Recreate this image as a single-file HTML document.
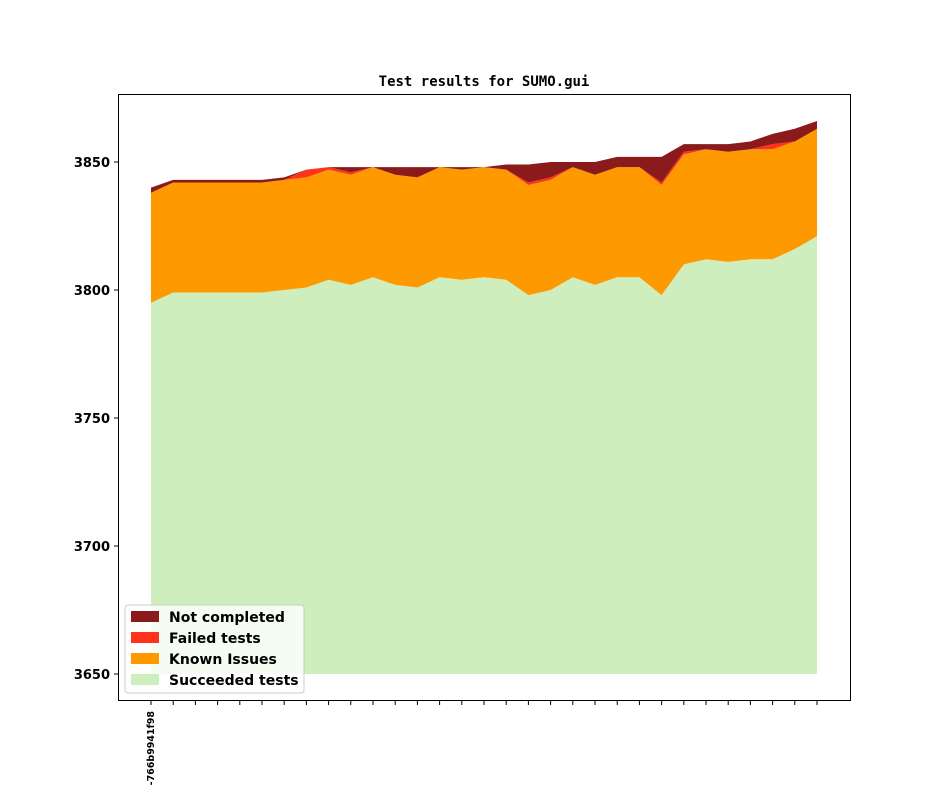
<!DOCTYPE html>
<html><head><meta charset="utf-8"><style>
body{margin:0;background:#fff;}
text{font-family:"DejaVu Sans","Liberation Sans",sans-serif;}
</style></head><body>
<svg id="chart" width="944" height="787">
<rect x="0" y="0" width="944" height="787" fill="#fff"/>
<text x="484" y="86" text-anchor="middle" font-weight="bold" font-size="14" style="font-family:'DejaVu Sans Mono','Liberation Mono',monospace">Test results for SUMO.gui</text>
<g id="areas"></g>
<rect x="118.5" y="94.5" width="732" height="606" fill="none" stroke="#000" stroke-width="1"/>
<g id="yaxis"></g>
<g id="xaxis"></g>
<g>
<rect x="125" y="605" width="179" height="88" rx="3" fill="#fff" fill-opacity="0.8" stroke="#ccc"/>
<g><rect x="131" y="611" width="28" height="11" fill="#8b1a1a"/><text x="169" y="622" font-size="14" font-weight="bold">Not completed</text></g>
<g><rect x="131" y="632" width="28" height="11" fill="#ff3319"/><text x="169" y="643" font-size="14" font-weight="bold">Failed tests</text></g>
<g><rect x="131" y="653" width="28" height="11" fill="#ff9900"/><text x="169" y="664" font-size="14" font-weight="bold">Known Issues</text></g>
<g><rect x="131" y="674" width="28" height="11" fill="#ceeebd"/><text x="169" y="685" font-size="14" font-weight="bold">Succeeded tests</text></g>
</g>
</svg>
<script>
const succeeded=[3795,3799,3799,3799,3799,3799,3800,3801,3804,3802,3805,3802,3801,3805,3804,3805,3804,3798,3800,3805,3802,3805,3805,3798,3810,3812,3811,3812,3812,3816,3821];
const known=[43,43,43,43,43,43,43,43,43,43,43,43,43,43,43,43,43,43,43,43,43,43,43,43,43,43,43,43,43,42,42];
const failed=[0,0,0,0,0,0,0,3,1,1,0,0,0,0,0,0,0,1,1,0,0,0,0,1,1,0,0,0,2,0,0];
const notCompleted=[2,1,1,1,1,1,1,0,0,2,0,3,4,0,1,0,2,7,6,2,5,4,4,10,3,2,3,3,4,5,3];
const yTicks=[3650,3700,3750,3800,3850];
const xLabels=["-766b9941f98"];
const base=3650;
const NS="http://www.w3.org/2000/svg";
const n=succeeded.length;
function xs(i){return 151+i*(817-151)/(n-1);}
function ys(v){return 162+(3850-v)*2.56;}
const areas=document.getElementById('areas');
const series=[[succeeded,'#ceeebd','area-succeeded'],[known,'#ff9900','area-known-issues'],[failed,'#ff3319','area-failed'],[notCompleted,'#8b1a1a','area-not-completed']];
let lower=succeeded.map(()=>base);
series.forEach(([vals,col,name],si)=>{
  const upper=vals.map((v,i)=>si===0?v:lower[i]+v);
  let d='';
  for(let i=0;i<n;i++)d+=(i?'L':'M')+xs(i)+','+ys(upper[i]);
  for(let i=n-1;i>=0;i--)d+='L'+xs(i)+','+ys(lower[i]);
  const p=document.createElementNS(NS,'path');
  p.setAttribute('d',d+'Z');p.setAttribute('fill',col);
  
  
  areas.appendChild(p);
  lower=upper;
});
const ya=document.getElementById('yaxis');
yTicks.forEach(t=>{
  const y=ys(t);
  const l=document.createElementNS(NS,'line');
  l.setAttribute('x1',114);l.setAttribute('x2',118);l.setAttribute('y1',y);l.setAttribute('y2',y);l.setAttribute('stroke','#000');
  
  
  ya.appendChild(l);
  const tx=document.createElementNS(NS,'text');
  tx.setAttribute('x',110);tx.setAttribute('y',y+5);tx.setAttribute('text-anchor','end');tx.setAttribute('font-size','13');tx.setAttribute('font-weight','bold');
  tx.textContent=t;
  
  
  ya.appendChild(tx);
});
const xa=document.getElementById('xaxis');
for(let i=0;i<n;i++){
  const l=document.createElementNS(NS,'line');
  l.setAttribute('x1',xs(i));l.setAttribute('x2',xs(i));l.setAttribute('y1',701);l.setAttribute('y2',705);l.setAttribute('stroke','#000');
  
  
  xa.appendChild(l);
}
xLabels.forEach((lab,i)=>{
  const tx=document.createElementNS(NS,'text');
  tx.setAttribute('transform','translate('+(xs(i)+3)+',711) rotate(-90)');
  tx.setAttribute('text-anchor','end');tx.setAttribute('font-size','9.5');tx.setAttribute('font-weight','bold');
  tx.textContent=lab;
  
  
  xa.appendChild(tx);
});
</script>
</body></html>
